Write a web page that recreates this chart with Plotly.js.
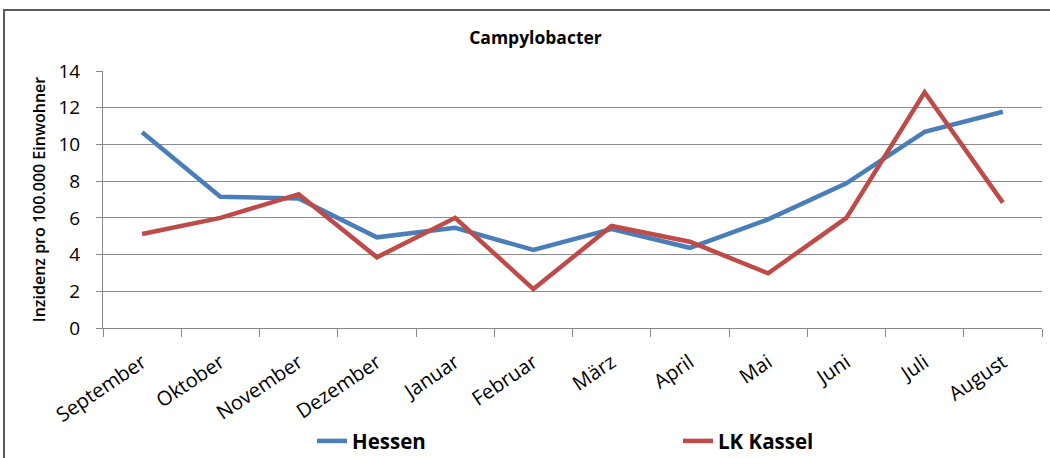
<!DOCTYPE html>
<html>
<head>
<meta charset="utf-8">
<script src="https://cdn.plot.ly/plotly-3.0.1.min.js"></script>
<style>
  html, body { margin: 0; padding: 0; background: #ffffff; overflow: hidden; }
  #chart { width: 1050px; height: 458px; position: relative; }
  #frame { position: absolute; left: 3px; top: 9px; width: 1060px; height: 470px;
           border-left: 2px solid #5a5a5a; border-top: 2px solid #5a5a5a; pointer-events: none; }
</style>
</head>
<body>
<div id="chart"></div>
<div id="frame"></div>
<script>
const months = ["September", "Oktober", "November", "Dezember", "Januar", "Februar",
                "März", "April", "Mai", "Juni", "Juli", "August"];
const hessen = [10.66, 7.15, 7.06, 4.94, 5.46, 4.25, 5.39, 4.37, 5.92, 7.88, 10.69, 11.78];
const lkKassel = [5.12, 6.0, 7.28, 3.85, 6.0, 2.12, 5.56, 4.70, 2.98, 6.0, 12.84, 6.83];
const yTicks = [0, 2, 4, 6, 8, 10, 12, 14];

const FONT = "Open Sans, Lato, sans-serif";

const traces = [
  { x: months, y: hessen, name: "Hessen", type: "scatter", mode: "lines",
    line: { color: "#4a7ebb", width: 4.5 } },
  { x: months, y: lkKassel, name: "LK Kassel", type: "scatter", mode: "lines",
    line: { color: "#be4b48", width: 4.5 } }
];

const layout = {
  width: 1050, height: 458,
  margin: { l: 103, r: 8, t: 71, b: 130, autoexpand: false },
  paper_bgcolor: "#ffffff", plot_bgcolor: "#ffffff",
  font: { family: FONT, color: "#000000", size: 18 },
  title: { text: "<b>Campylobacter</b>", font: { family: FONT, size: 17.5, color: "#000" },
           x: 0.51, xanchor: "center", xref: "container", y: 0.917, yanchor: "middle", yref: "container" },
  xaxis: {
    type: "category", tickson: "boundaries", ticks: "outside", ticklen: 8,
    tickcolor: "#868686", showline: true, linecolor: "#868686", linewidth: 1,
    showgrid: false, zeroline: false, tickangle: -34, automargin: false,
    tickfont: { family: FONT, size: 20, color: "#000" }, ticklabelstandoff: 14,
    range: [-0.5, 11.5], fixedrange: true
  },
  yaxis: {
    range: [0, 14], tickvals: yTicks, ticks: "outside", ticklen: 6, automargin: false,
    tickcolor: "#868686", showline: true, linecolor: "#868686", linewidth: 1,
    showgrid: true, gridcolor: "#8c8c8c", gridwidth: 1, zeroline: false,
    tickfont: { family: FONT, size: 19, color: "#000" }, ticklabelstandoff: 12,
    title: { text: "Inzidenz pro 100.000 Einwohner",
             font: { family: FONT, size: 16, color: "#000", weight: 600 }, standoff: 8 },
    fixedrange: true
  },
  showlegend: true,
  legend: {
    orientation: "h", x: 0.2226, xanchor: "left", y: -0.44, yanchor: "middle",
    font: { family: FONT, size: 20.5, color: "#000", weight: 700 },
    bgcolor: "rgba(0,0,0,0)", entrywidth: 321, entrywidthmode: "pixels",
    traceorder: "normal"
  }
};

Plotly.newPlot("chart", traces, layout, { displayModeBar: false, staticPlot: true });
</script>
</body>
</html>
